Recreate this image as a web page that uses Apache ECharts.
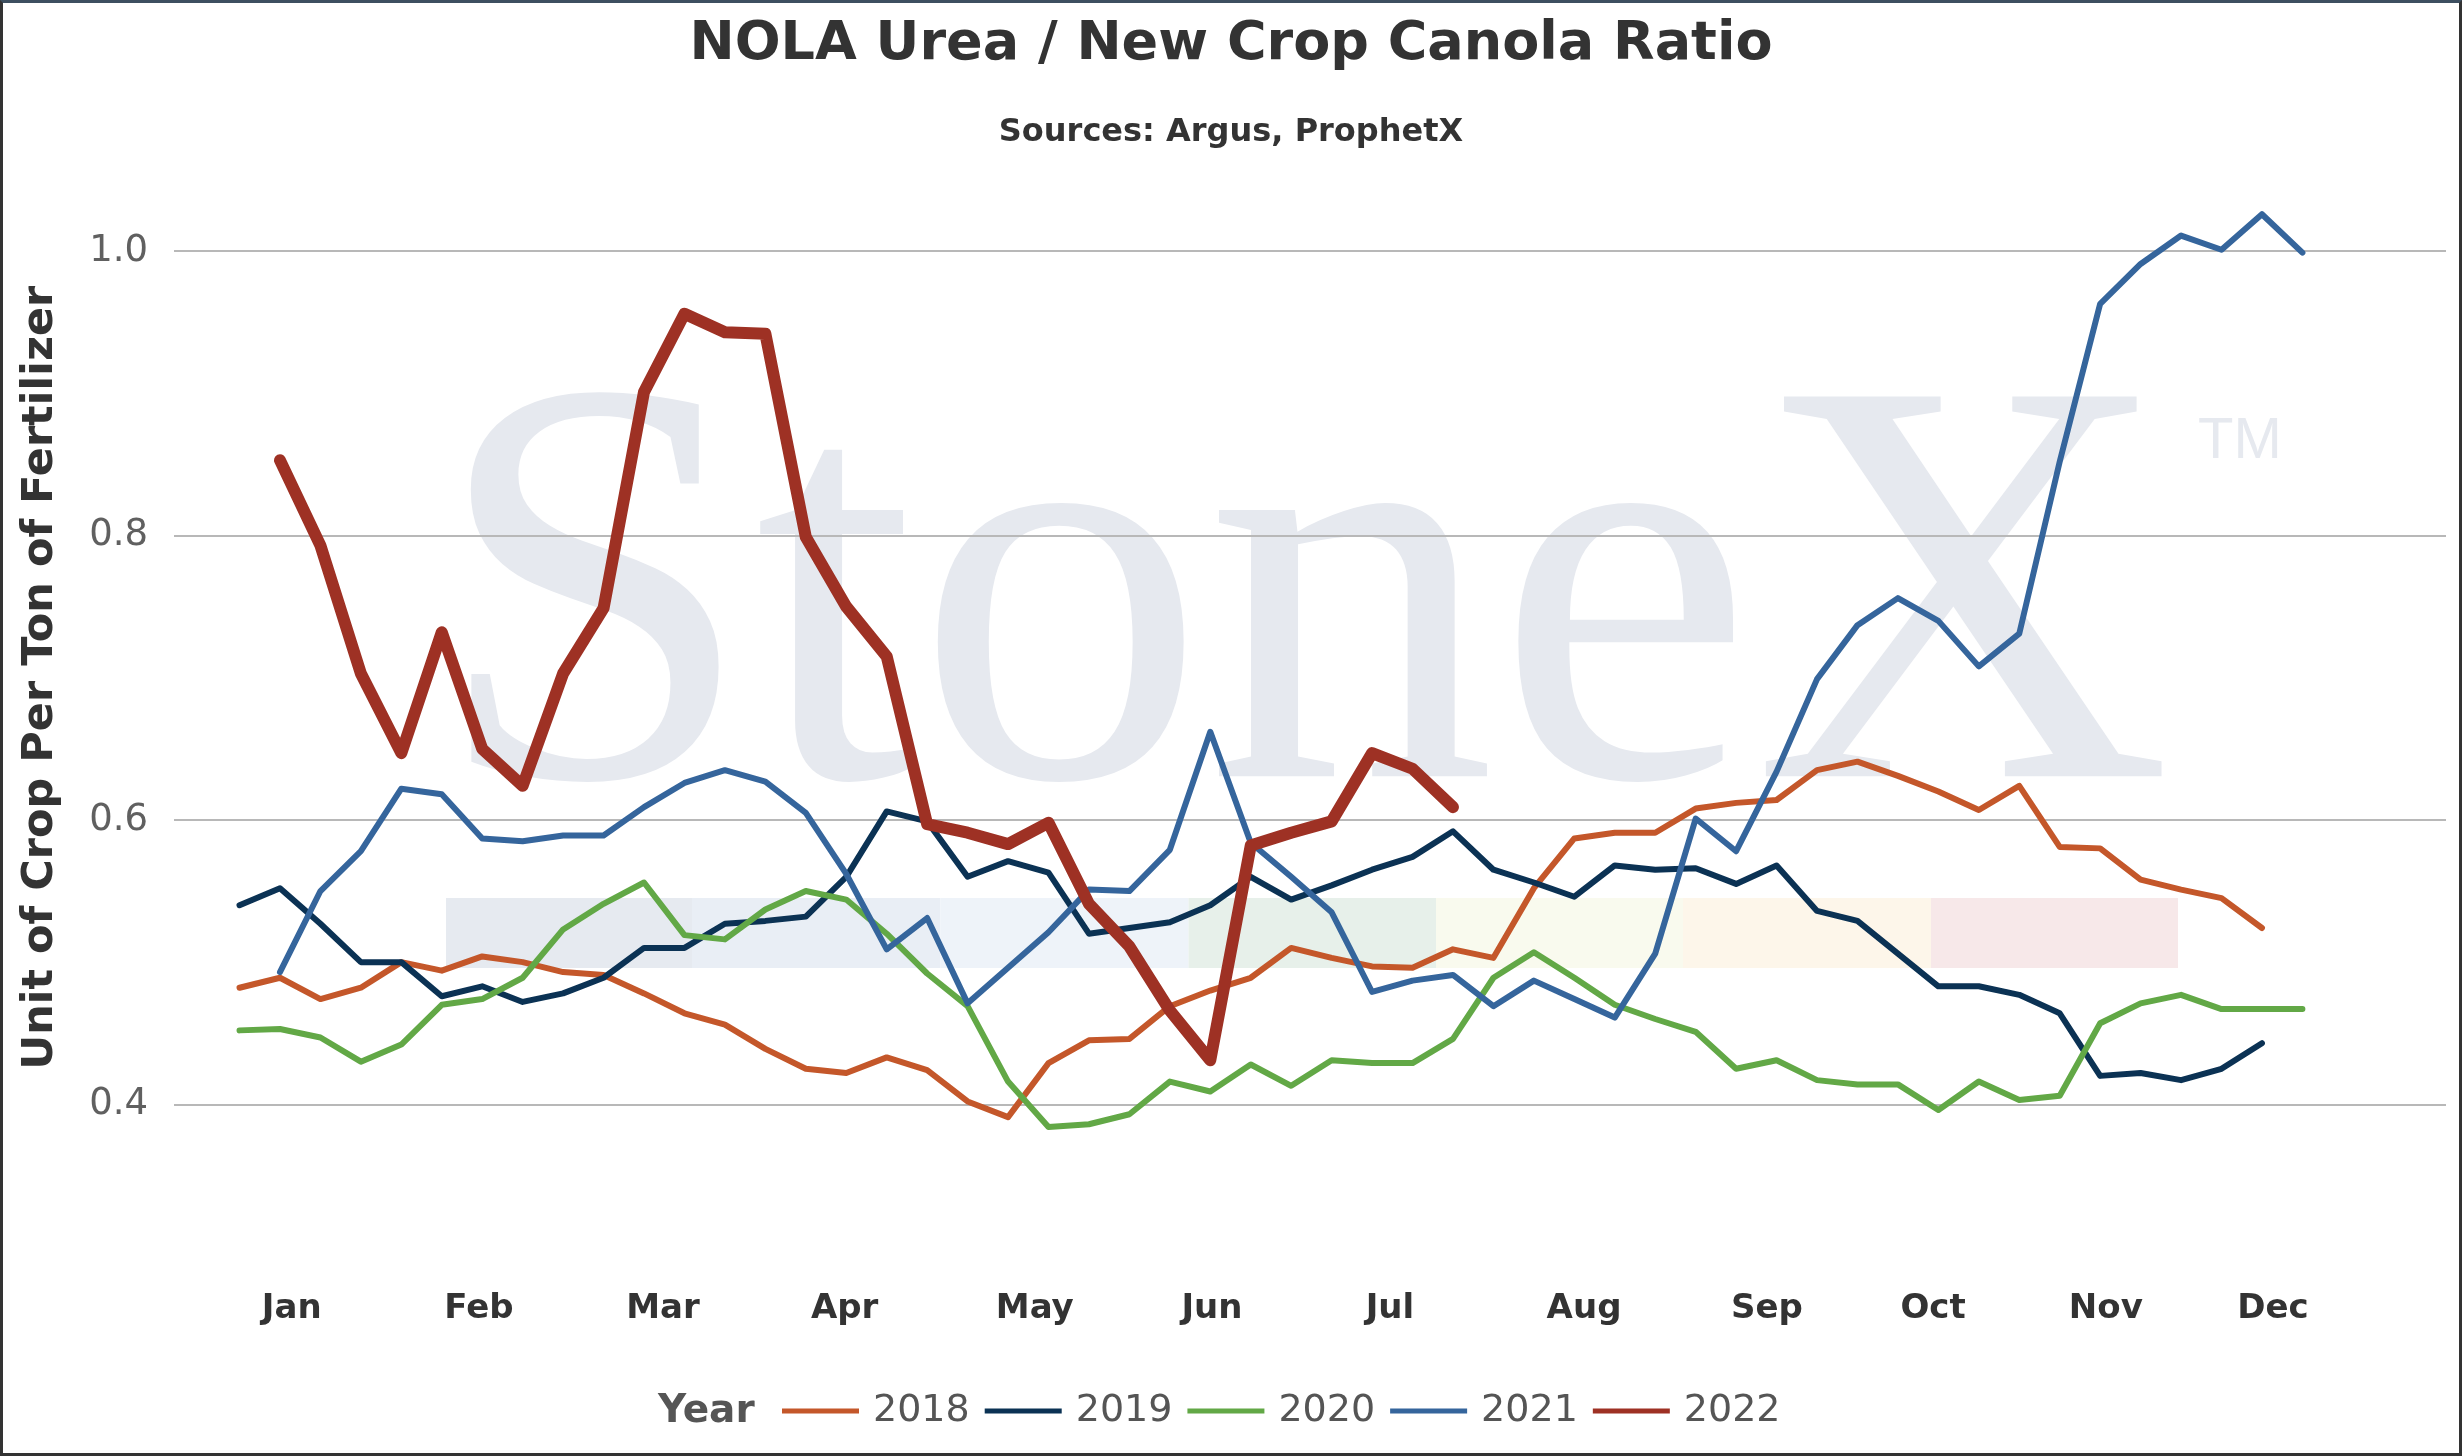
<!DOCTYPE html>
<html>
<head>
<meta charset="utf-8">
<title>NOLA Urea / New Crop Canola Ratio</title>
<script src="https://cdn.jsdelivr.net/npm/echarts@6.0.0/dist/echarts.min.js"></script>
<style>
  html, body { margin: 0; padding: 0; background: #fff; }
  #main { width: 2462px; height: 1456px; }
  #frame { position: absolute; left: 0; top: 0; width: 2462px; height: 1456px; box-sizing: border-box;
           border: 3px solid #333; border-top-color: #3d4f60; pointer-events: none; }
</style>
</head>
<body>
<div id="main"></div>
<div id="frame"></div>
<script>
// weekly ratio, x = week index from start of year
var years = ['2018', '2019', '2020', '2021', '2022'];
var colors = ['#c4572a', '#0b3254', '#62a846', '#35659c', '#9e3124'];
var widths = [6, 6, 6, 6, 12];

var y2018 = [0.482, 0.489, 0.474, 0.482, 0.500, 0.494, 0.504, 0.500, 0.493, 0.491,
             0.478, 0.464, 0.456, 0.439, 0.425, 0.422, 0.433, 0.424, 0.402, 0.391,
             0.429, 0.445, 0.446, 0.469, 0.480, 0.489, 0.510, 0.503, 0.497, 0.496,
             0.509, 0.503, 0.552, 0.587, 0.591, 0.591, 0.608, 0.612, 0.614, 0.635,
             0.641, 0.631, 0.620, 0.607, 0.624, 0.581, 0.580, 0.558, 0.551, 0.545, 0.524];
var y2019 = [0.540, 0.552, 0.527, 0.500, 0.500, 0.476, 0.483, 0.472, 0.478, 0.489,
             0.510, 0.510, 0.527, 0.529, 0.532, 0.560, 0.606, 0.599, 0.560, 0.571,
             0.563, 0.520, 0.524, 0.528, 0.540, 0.560, 0.544, 0.554, 0.565, 0.574,
             0.592, 0.565, 0.556, 0.546, 0.568, 0.565, 0.566, 0.555, 0.568, 0.536,
             0.529, 0.506, 0.483, 0.483, 0.477, 0.464, 0.420, 0.422, 0.417, 0.425, 0.443];
var y2020 = [0.452, 0.453, 0.447, 0.430, 0.442, 0.470, 0.474, 0.489, 0.523, 0.541,
             0.556, 0.519, 0.516, 0.537, 0.550, 0.544, 0.520, 0.492, 0.469, 0.416,
             0.384, 0.386, 0.393, 0.416, 0.409, 0.428, 0.413, 0.431, 0.429, 0.429,
             0.446, 0.489, 0.507, 0.489, 0.470, 0.460, 0.451, 0.425, 0.431, 0.417,
             0.414, 0.414, 0.396, 0.416, 0.403, 0.406, 0.457, 0.471, 0.477, 0.467, 0.467, 0.467];
var y2021 = [null, 0.493, 0.550, 0.578, 0.622, 0.618, 0.587, 0.585, 0.589, 0.589,
             0.609, 0.626, 0.635, 0.627, 0.605, 0.562, 0.509, 0.531, 0.471, 0.496,
             0.521, 0.551, 0.550, 0.579, 0.662, 0.584, 0.560, 0.535, 0.479, 0.487,
             0.491, 0.469, 0.487, 0.474, 0.461, 0.506, 0.601, 0.578, 0.634, 0.699,
             0.737, 0.756, 0.740, 0.708, 0.731, 0.852, 0.963, 0.991, 1.011, 1.001, 1.026, 0.999];
var y2022 = [null, 0.853, 0.793, 0.703, 0.647, 0.732, 0.650, 0.624, 0.703, 0.749,
             0.901, 0.956, 0.943, 0.942, 0.799, 0.750, 0.715, 0.597, 0.591, 0.583,
             0.598, 0.541, 0.511, 0.466, 0.431, 0.582, 0.591, 0.599, 0.647, 0.636, 0.609];
var allYears = [y2018, y2019, y2020, y2021, y2022];

// month labels sit at these week positions
var monthNames = ['Jan', 'Feb', 'Mar', 'Apr', 'May', 'Jun', 'Jul', 'Aug', 'Sep', 'Oct', 'Nov', 'Dec'];
var monthPos = [1.29, 5.92, 10.47, 14.96, 19.66, 24.04, 28.44, 33.24, 37.76, 41.87, 46.14, 50.27];
var yTicks = [0.4, 0.6, 0.8, 1.0];

var xMin = -1.62, xMax = 54.55;
var font = 'DejaVu Sans';

function pts(vals) {
    return vals.map(function (v, i) { return [i, v]; }).filter(function (p) { return p[1] !== null; });
}

// watermark band colours
var bandColors = ['#e6eaf0', '#e9eef5', '#eef3f9', '#e7f0ea', '#f9faee', '#fdf6ea', '#f7e8e9'];
var bandEdges = [446, 692, 940.5, 1188.5, 1436, 1683, 1931, 2178];

var graphics = [];
bandColors.forEach(function (c, i) {
    graphics.push({
        type: 'rect', z: -10, silent: true,
        shape: { x: bandEdges[i], y: 898, width: bandEdges[i + 1] - bandEdges[i], height: 70 },
        style: { fill: c }
    });
});
graphics.push({
    type: 'text', z: -10, silent: true, x: 432, y: 624,
    style: { text: 'StoneX', fill: '#e6e9ef', font: '580px "Liberation Serif"', textAlign: 'left', textVerticalAlign: 'middle' }
});
graphics.push({
    type: 'text', z: -10, silent: true, x: 2198, y: 442,
    style: { text: 'TM', fill: '#e6e9ef', font: '58px "Liberation Sans"', textAlign: 'left', textVerticalAlign: 'middle' }
});
graphics.push({
    type: 'text', x: 658, y: 1412,
    style: { text: 'Year', fill: '#555', font: 'bold 39px "DejaVu Sans"', textAlign: 'left', textVerticalAlign: 'middle' }
});

var myChart = echarts.init(document.getElementById('main'));

var option = {
    animation: false,
    backgroundColor: '#fff',
    textStyle: { fontFamily: font },
    title: {
        text: 'NOLA Urea / New Crop Canola Ratio',
        subtext: 'Sources: Argus, ProphetX',
        left: 'center',
        top: 13,
        itemGap: 45,
        textStyle: { fontFamily: font, fontSize: 54, fontWeight: 'bold', color: '#333', lineHeight: 54 },
        subtextStyle: { fontFamily: font, fontSize: 32, fontWeight: 'bold', color: '#333', lineHeight: 32 }
    },
    legend: {
        left: 777,
        top: 1387,
        icon: 'rect',
        itemWidth: 77,
        itemHeight: 5,
        itemGap: 15,
        data: years,
        textStyle: { fontFamily: font, fontSize: 38, color: '#555', padding: [0, 0, 0, 9] }
    },
    graphic: graphics,
    grid: {
        left: 174, right: 16, top: 109, bottom: 209.5,
        outerBoundsMode: 'none'
    },
    xAxis: {
        type: 'value',
        min: xMin,
        max: xMax,
        axisLine: { show: false },
        axisTick: { show: false, customValues: monthPos },
        splitLine: { show: false },
        axisLabel: {
            customValues: monthPos,
            margin: 46,
            fontFamily: font, fontSize: 34, fontWeight: 'bold', color: '#333',
            formatter: function (v) {
                for (var k = 0; k < monthPos.length; k++) {
                    if (Math.abs(monthPos[k] - v) < 0.01) return monthNames[k];
                }
                return '';
            }
        }
    },
    yAxis: {
        type: 'value',
        min: 0.3,
        max: 1.1,
        name: 'Unit of Crop Per Ton of Fertilizer',
        nameLocation: 'middle',
        nameGap: 112,
        nameTextStyle: { fontFamily: font, fontSize: 43, fontWeight: 'bold', color: '#333' },
        axisLine: { show: false },
        axisTick: { show: false, customValues: yTicks },
        splitLine: { show: true, lineStyle: { color: '#b8b8b8', width: 2 } },
        axisLabel: {
            customValues: yTicks,
            margin: 26,
            fontFamily: font, fontSize: 37, color: '#606060',
            formatter: function (v) { return v.toFixed(1); }
        }
    },
    series: years.map(function (y, i) {
        return {
            name: y,
            type: 'line',
            data: pts(allYears[i]),
            symbol: 'none',
            showSymbol: false,
            smooth: false,
            z: 2 + i,
            itemStyle: { color: colors[i] },
            lineStyle: { color: colors[i], width: widths[i], cap: 'round', join: 'round' }
        };
    })
};

myChart.setOption(option);
</script>
</body>
</html>
